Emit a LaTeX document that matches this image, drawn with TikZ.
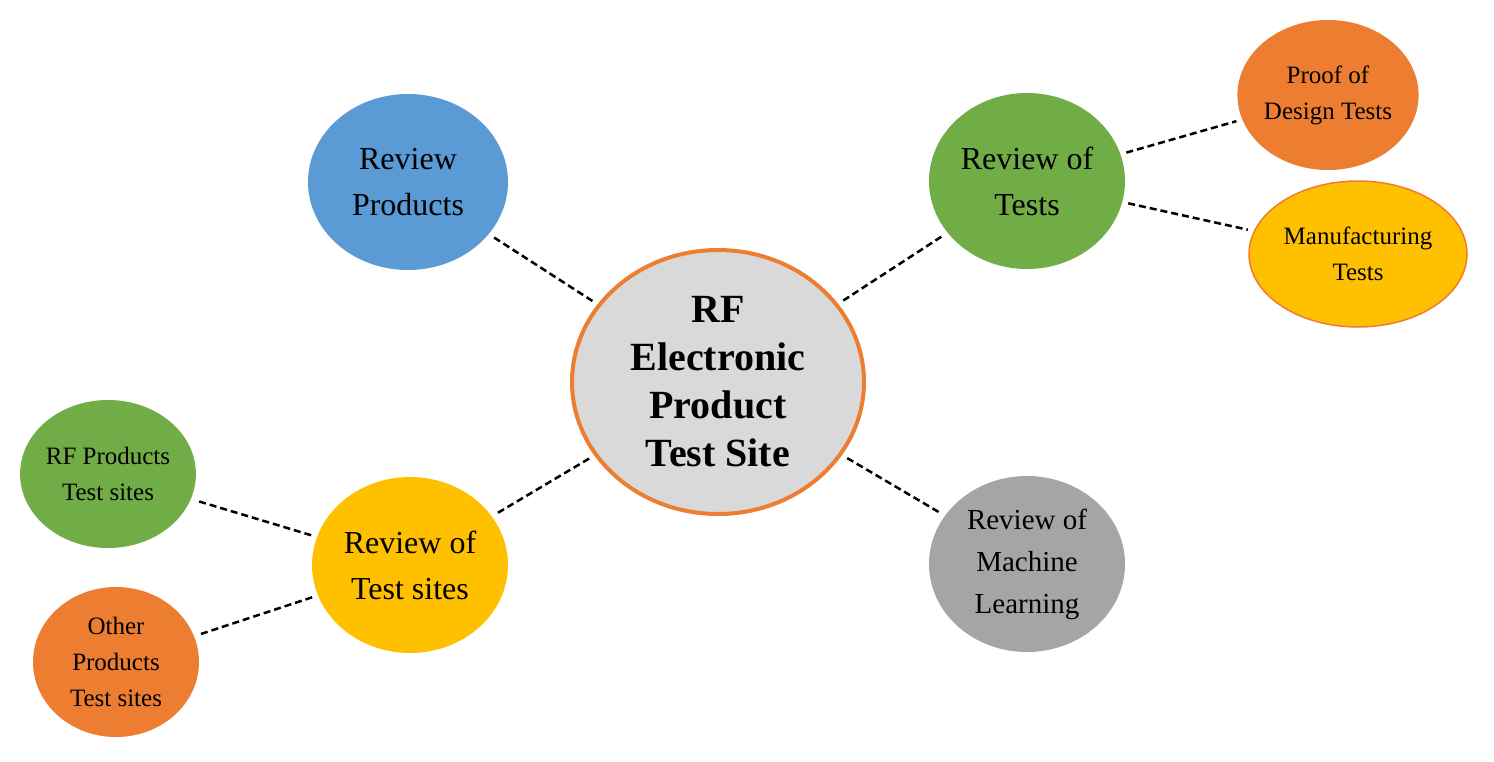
\documentclass[tikz,border=0pt]{standalone}
\usepackage{fontspec}
\setmainfont{Liberation Serif}
\usetikzlibrary{shapes.geometric}
\definecolor{cgray}{HTML}{D9D9D9}
\definecolor{cblue}{HTML}{5B9BD5}
\definecolor{cgreen}{HTML}{70AD47}
\definecolor{corange}{HTML}{ED7D31}
\definecolor{cyellow}{HTML}{FFC000}
\definecolor{cdgray}{HTML}{A5A5A5}
\begin{document}
\begin{tikzpicture}[x=1pt,y=-1pt,
  bub/.style={ellipse,inner sep=0pt,align=center,font=\fontsize{32}{46}\selectfont},
  sm/.style={bub,font=\fontsize{25}{36}\selectfont},
  link/.style={draw=black,line width=2.5pt,dash pattern=on 7pt off 4pt,shorten <=6pt,shorten >=6pt}]
\useasboundingbox (0,0) rectangle (1494,761);
\node[bub,fill=cgray,draw=corange,line width=4pt,minimum width=292pt,minimum height=264pt,font=\bfseries\fontsize{40}{48}\selectfont] (c) at (718,382) {RF\\Electronic\\Product\\Test Site};
\node[bub,fill=cblue,minimum width=200pt,minimum height=176pt] (rp) at (408,182) {Review\\Products};
\node[bub,fill=cgreen,minimum width=196pt,minimum height=176pt] (rt) at (1027,181) {Review of\\Tests};
\node[sm,fill=corange,minimum width=166pt,minimum height=150pt] (pd) at (1328,95) {Proof of\\Design Tests};
\node[sm,fill=cyellow,draw=corange,line width=1.5pt,minimum width=218pt,minimum height=146pt] (mt) at (1358,254) {Manufacturing\\Tests};
\node[bub,fill=cyellow,minimum width=196pt,minimum height=176pt] (ts) at (410,565) {Review of\\Test sites};
\node[sm,fill=cgreen,minimum width=164pt,minimum height=148pt] (rf) at (108,474) {RF Products\\Test sites};
\node[sm,fill=corange,minimum width=166pt,minimum height=150pt] (op) at (116,662) {Other\\Products\\Test sites};
\node[bub,fill=cdgray,minimum width=196pt,minimum height=176pt,font=\fontsize{29}{42}\selectfont] (ml) at (1027,564) {Review of\\Machine\\Learning};
\draw[link] (c) -- (rp);
\draw[link] (c) -- (rt);
\draw[link] (c) -- (ts);
\draw[link] (c) -- (ml);
\draw[link] (rt) -- (pd);
\draw[link] (rt) -- (mt);
\draw[link] (ts) -- (rf);
\draw[link] (ts) -- (op);
\end{tikzpicture}
\end{document}
